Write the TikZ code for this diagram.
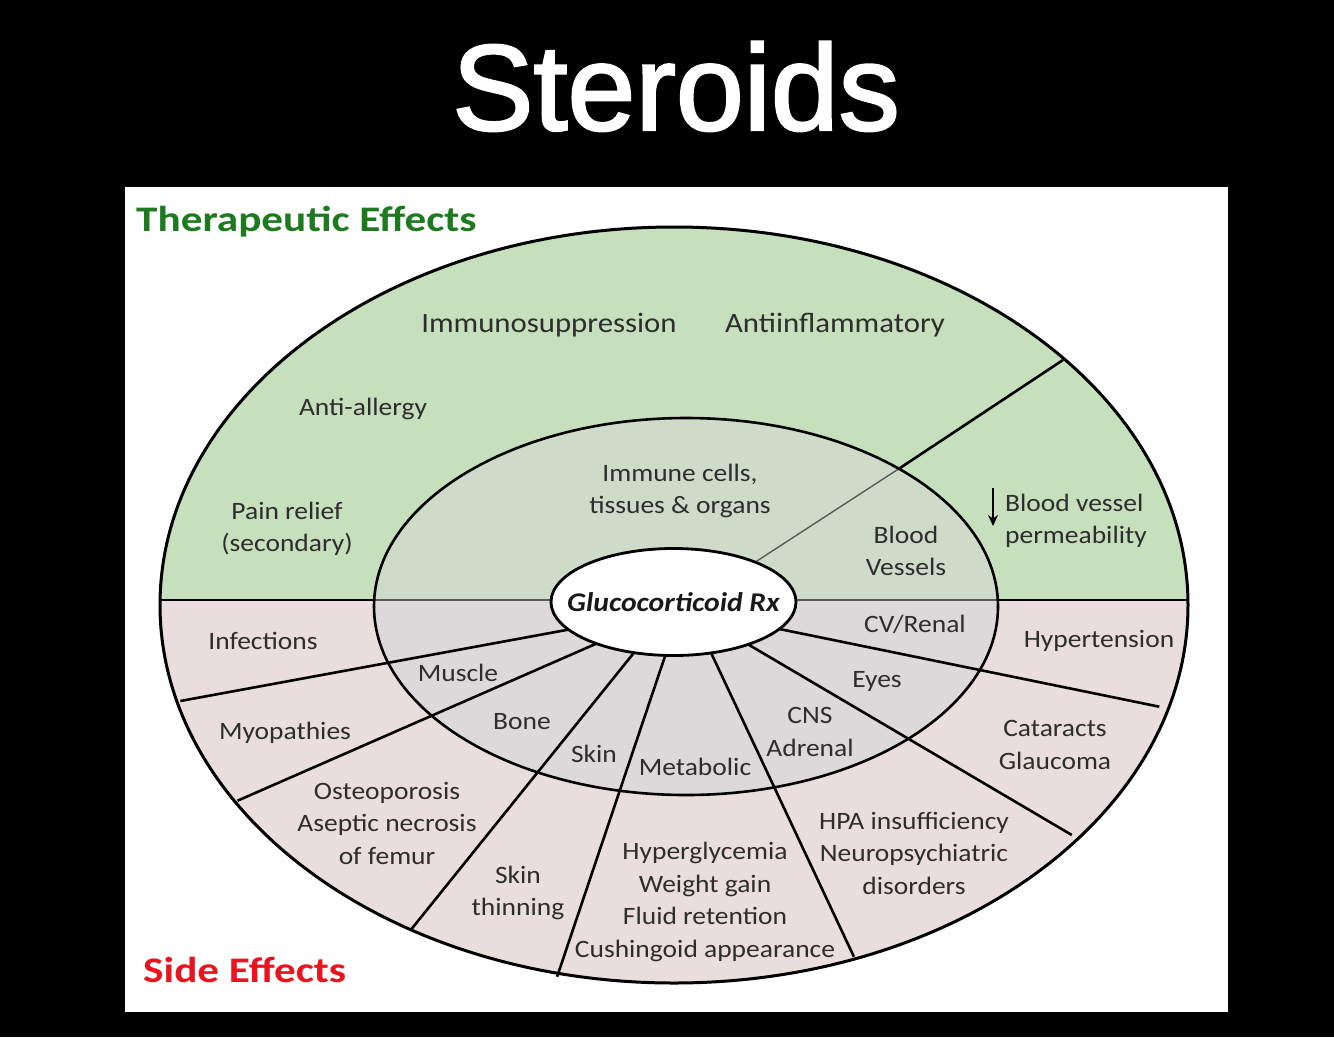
\documentclass[tikz,border=0pt]{standalone}
\usepackage{fontspec}
\setmainfont{Carlito}
\newfontfamily\titlefont[FakeBold=2]{Liberation Sans}
\usetikzlibrary{calc,arrows.meta,shapes.geometric}
\definecolor{topout}{RGB}{198,223,188}
\definecolor{topin}{RGB}{207,219,201}
\definecolor{botout}{RGB}{233,221,222}
\definecolor{botin}{RGB}{221,216,218}
\definecolor{txt}{RGB}{45,45,45}
\definecolor{tgreen}{RGB}{30,122,30}
\definecolor{tred}{RGB}{232,20,30}
\newcommand{\hs}[1]{\scalebox{1.1}[1]{#1}}
\newcommand{\hb}[1]{\scalebox{1.2}[1]{#1}}
\begin{document}
\begin{tikzpicture}[x=1pt,y=-1pt,
  lbl/.style={text=txt, font=\fontsize{25}{32.5}\selectfont, align=center, inner sep=0pt},
  biglbl/.style={text=txt, font=\fontsize{28}{32.5}\selectfont, align=center, inner sep=0pt},
  heading/.style={font=\bfseries\fontsize{36}{40}\selectfont, inner sep=0pt, anchor=west},
  divider/.style={line width=2.6pt, black},
  thinline/.style={line width=1.4pt, black!65},
  ring/.style={line width=3pt, black}]
\useasboundingbox (0,0) rectangle (1334,1037);
\fill[black] (0,0) rectangle (1334,1037);
\fill[white] (125,187) rectangle (1228,1012);
% fills
\begin{scope}
  \clip (0,0) rectangle (1334,600);
  \fill[topout] (674,605) ellipse [x radius=514, y radius=378];
  \fill[topin] (686,606.5) ellipse [x radius=312, y radius=188.5];
\end{scope}
\begin{scope}
  \clip (0,600) rectangle (1334,1037);
  \fill[botout] (674,605) ellipse [x radius=514, y radius=378];
  \fill[botin] (686,606.5) ellipse [x radius=312, y radius=188.5];
\end{scope}
% coordinates
\coordinate (H0) at (160,600);
\coordinate (H1) at (374,600);
\coordinate (H2) at (998,600);
\coordinate (H3) at (1188,600);
\coordinate (U0) at (750,565.5);
\coordinate (U1) at (900,468);
\coordinate (U2) at (1063,360);
\coordinate (L1a) at (562.5,630.7); \coordinate (L1b) at (180.4,701);
\coordinate (L2a) at (589.3,646.7); \coordinate (L2b) at (237.5,800.7);
\coordinate (L3a) at (632.1,655);   \coordinate (L3b) at (410.7,930);
\coordinate (L4a) at (664.3,658.3); \coordinate (L4b) at (557.1,976.7);
\coordinate (L5a) at (712.9,656.7); \coordinate (L5b) at (853.9,956.7);
\coordinate (L6a) at (752.1,646.7); \coordinate (L6b) at (1071.8,835);
\coordinate (L7a) at (784.3,630);   \coordinate (L7b) at (1159.3,706.7);
% dividers
\draw[divider] (H0) -- (H1);
\draw[thinline] (H1) -- (H2);
\draw[divider] (H2) -- (H3);
\draw[thinline] (U0) -- (U1);
\draw[divider] (U1) -- (U2);
\foreach \i in {1,...,7}{
  \draw[divider] ($(L\i a)!-0.06!(L\i b)$) -- (L\i b);
}
% rings
\draw[ring] (674,605) ellipse [x radius=514, y radius=378];
\draw[line width=2.6pt] (686,606.5) ellipse [x radius=312, y radius=188.5];
% centre
\node[draw, ellipse, fill=white, line width=2.8pt, minimum width=245pt, minimum height=107pt, inner sep=0pt] (rx) at (673.5,602) {};
\node[font=\bfseries\itshape\fontsize{27}{30}\selectfont, text=black!90, inner sep=0pt] (rxt) at (rx.center) {\hs{Glucocorticoid Rx}};
% title and headings
\node[text=white, font=\titlefont\fontsize{122}{122}\selectfont, inner sep=0pt, anchor=base] (title) at (676,130) {Steroids};
\node[heading, text=tgreen] (ther) at (136,222) {\hb{Therapeutic Effects}};
\node[heading, text=tred] (side) at (143,970) {\hb{Side Effects}};
% therapeutic labels
\node[biglbl] (immuno) at (549,325) {\hs{Immunosuppression}};
\node[biglbl] (antiinf) at (835,325) {\hs{Antiinflammatory}};
\node[lbl] (allergy) at (363,409) {\hs{Anti-allergy}};
\node[lbl] (pain) at (287,529) {\hs{Pain relief}\\\hs{(secondary)}};
\node[lbl] (immcells) at (680,491) {\hs{Immune cells,}\\\hs{tissues \& organs}};
\node[lbl] (bv) at (906,551) {\hs{Blood}\\\hs{Vessels}};
\coordinate (ar0) at (993,488);
\coordinate (ar1) at (993,526);
\draw[line width=1.7pt, -{Stealth[length=11pt,width=10pt]}] (ar0) -- (ar1);
\node[lbl, align=left, anchor=west] (perm) at (1005,521) {\hs{Blood vessel}\\\hs{permeability}};
% side effect labels
\node[lbl] (cv) at (915,624) {\hs{CV/Renal}};
\node[lbl] (hyper) at (1099,641) {\hs{Hypertension}};
\node[lbl] (inf) at (263,641) {\hs{Infections}};
\node[lbl] (muscle) at (458,673) {\hs{Muscle}};
\node[lbl] (eyes) at (877,681) {\hs{Eyes}};
\node[lbl] (myo) at (285,733) {\hs{Myopathies}};
\node[lbl] (bone) at (522,722) {\hs{Bone}};
\node[lbl] (skin) at (594,754) {\hs{Skin}};
\node[lbl] (metab) at (695,767) {\hs{Metabolic}};
\node[lbl] (cns) at (810,732) {\hs{CNS}\\\hs{Adrenal}};
\node[lbl] (cat) at (1055,745) {\hs{Cataracts}\\\hs{Glaucoma}};
\node[lbl] (osteo) at (387,823) {\hs{Osteoporosis}\\\hs{Aseptic necrosis}\\\hs{of femur}};
\node[lbl] (skinth) at (518,893) {\hs{Skin}\\\hs{thinning}};
\node[lbl] (hypergly) at (705,902) {\hs{Hyperglycemia}\\\hs{Weight gain}\\\hs{Fluid retention}\\\hs{Cushingoid appearance}};
\node[lbl] (hpa) at (914,853) {\hs{HPA insufficiency}\\\hs{Neuropsychiatric}\\\hs{disorders}};
\end{tikzpicture}
\end{document}
